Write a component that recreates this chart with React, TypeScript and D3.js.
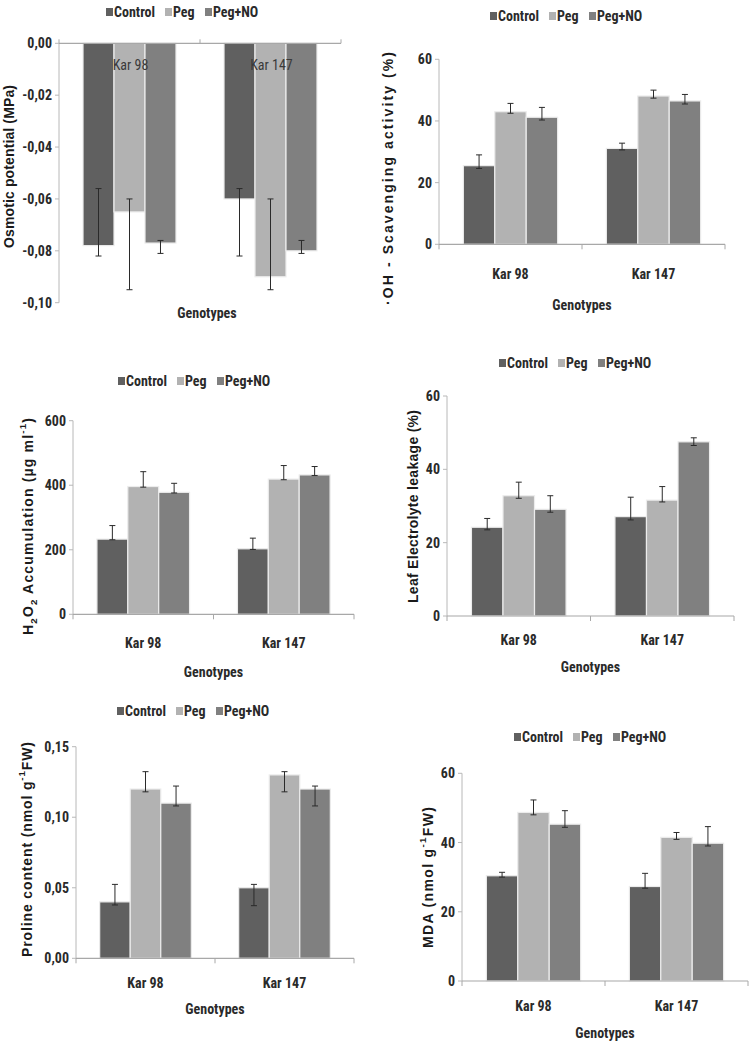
import React from "react";
import * as d3 from "d3";

const categories = ["Kar 98", "Kar 147"];
const seriesNames = ["Control", "Peg", "Peg+NO"];
const seriesColors = ["#606060", "#b2b2b2", "#808080"];

// rows = series (Control, Peg, Peg+NO), columns = categories (Kar 98, Kar 147)
const osmoticValues = [[-0.078, -0.060], [-0.065, -0.090], [-0.077, -0.080]];
const osmoticUpper = [[-0.056, -0.056], [-0.060, -0.060], [-0.076, -0.076]];
const osmoticLower = [[-0.082, -0.082], [-0.095, -0.095], [-0.081, -0.081]];
const osmoticTicks = [0, -0.02, -0.04, -0.06, -0.08, -0.10];

const ohValues = [[25.5, 31.1], [43.0, 48.1], [41.2, 46.5]];
const ohUpper = [[29.0, 32.8], [45.7, 50.0], [44.4, 48.6]];
const ohLower = [[24.6, 30.6], [42.5, 47.4], [40.3, 45.5]];
const ohTicks = [0, 20, 40, 60];

const h2o2Values = [[233, 203], [396, 419], [378, 432]];
const h2o2Upper = [[275, 236], [442, 461], [406, 458]];
const h2o2Lower = [[231, 201], [394, 417], [376, 430]];
const h2o2Ticks = [0, 200, 400, 600];

const leakValues = [[24.2, 27.1], [32.8, 31.6], [29.1, 47.5]];
const leakUpper = [[26.6, 32.4], [36.5, 35.3], [32.8, 48.6]];
const leakLower = [[23.5, 26.2], [32.1, 31.1], [28.3, 46.5]];
const leakTicks = [0, 20, 40, 60];

const prolineValues = [[0.04, 0.05], [0.12, 0.13], [0.11, 0.12]];
const prolineUpper = [[0.0524, 0.0524], [0.1323, 0.1323], [0.1221, 0.1221]];
const prolineLower = [[0.0378, 0.0373], [0.118, 0.118], [0.108, 0.108]];
const prolineTicks = [0, 0.05, 0.10, 0.15];

const mdaValues = [[30.4, 27.3], [48.7, 41.5], [45.3, 39.8]];
const mdaUpper = [[31.4, 31.1], [52.3, 42.9], [49.2, 44.6]];
const mdaLower = [[30.0, 26.8], [48.0, 40.9], [44.4, 39.0]];
const mdaTicks = [0, 20, 40, 60];

const xTitle = "Genotypes";

const NARROW = "'Liberation Sans Narrow', 'Arial Narrow', 'Roboto Condensed', 'Liberation Sans', sans-serif";
const WIDE = "'Liberation Sans', Arial, sans-serif";

const comma2 = (v: number) => d3.format(".2f")(v).replace(".", ",").replace("−", "-");
const plain = (v: number) => d3.format("d")(v);

type Panel = {
  values: number[][]; upper: number[][]; lower: number[][];
  ticks: number[]; fmt: (v: number) => string;
  left: number; right: number; top: number; bottom: number;
  legendX: number; legendY: number;
  catY: number; titleY: number;
  yTitle: string; yTitleX: number; yTitleMid: number; yTitleLen: number;
  inside?: boolean;
};

const panels: Panel[] = [
  { values: osmoticValues, upper: osmoticUpper, lower: osmoticLower, ticks: osmoticTicks, fmt: comma2,
    left: 59, right: 341, top: 43.3, bottom: 302.7, legendX: 106, legendY: 12, catY: 65, titleY: 313,
    yTitle: "Osmotic potential (MPa)", yTitleX: 9, yTitleMid: 166.5, yTitleLen: 163, inside: true },
  { values: ohValues, upper: ohUpper, lower: ohLower, ticks: ohTicks, fmt: plain,
    left: 439, right: 725, top: 59.3, bottom: 244.3, legendX: 490, legendY: 16, catY: 274, titleY: 305,
    yTitle: "·OH - Scavenging activity (%)", yTitleX: 388, yTitleMid: 178.5, yTitleLen: 253 },
  { values: h2o2Values, upper: h2o2Upper, lower: h2o2Lower, ticks: h2o2Ticks, fmt: plain,
    left: 73, right: 354, top: 420.7, bottom: 614.3, legendX: 118, legendY: 381, catY: 643, titleY: 672,
    yTitle: "H2O2 Accumulation (µg ml-1)", yTitleX: 28, yTitleMid: 526.5, yTitleLen: 217 },
  { values: leakValues, upper: leakUpper, lower: leakLower, ticks: leakTicks, fmt: plain,
    left: 447, right: 734, top: 396, bottom: 616, legendX: 499, legendY: 363, catY: 640, titleY: 667,
    yTitle: "Leaf Electrolyte leakage (%)", yTitleX: 413, yTitleMid: 506.5, yTitleLen: 193 },
  { values: prolineValues, upper: prolineUpper, lower: prolineLower, ticks: prolineTicks, fmt: comma2,
    left: 76, right: 354, top: 746.7, bottom: 958.3, legendX: 117, legendY: 711, catY: 983, titleY: 1009,
    yTitle: "Proline content (nmol g-1FW)", yTitleX: 27, yTitleMid: 849.5, yTitleLen: 215 },
  { values: mdaValues, upper: mdaUpper, lower: mdaLower, ticks: mdaTicks, fmt: plain,
    left: 462, right: 748, top: 773.3, bottom: 981, legendX: 514, legendY: 737, catY: 1006, titleY: 1033,
    yTitle: "MDA (nmol g-1FW)", yTitleX: 428, yTitleMid: 877.5, yTitleLen: 141 },
];

function renderTitle(t: string) {
  if (t.startsWith("H2O2")) {
    return [
      <tspan key="a">H</tspan>,
      <tspan key="b" baselineShift="sub" fontSize="70%">2</tspan>,
      <tspan key="c">O</tspan>,
      <tspan key="d" baselineShift="sub" fontSize="70%">2</tspan>,
      <tspan key="e"> Accumulation (µg ml</tspan>,
      <tspan key="f" baselineShift="super" fontSize="70%">-1</tspan>,
      <tspan key="g">)</tspan>,
    ];
  }
  if (t.includes("g-1FW")) {
    const [pre] = t.split("g-1FW");
    return [
      <tspan key="a">{pre}g</tspan>,
      <tspan key="b" baselineShift="super" fontSize="70%">-1</tspan>,
      <tspan key="c">FW)</tspan>,
    ];
  }
  return t;
}

function ChartPanel({ p }: { p: Panel }) {
  const x0 = d3.scaleBand<string>().domain(categories).range([p.left, p.right]);
  const bw = x0.bandwidth();
  const gapRatio = 1.55;
  const w = bw / (3 + gapRatio);
  const pad = (bw - 3 * w) / 2;
  const x1 = d3.scaleBand<string>().domain(seriesNames).range([0, 3 * w]);
  const ext = d3.extent(p.ticks) as [number, number];
  const y = d3.scaleLinear().domain(ext).range([p.bottom, p.top]);
  const y0 = y(0);
  const legendOffsets = [0, 59, 99];
  const midX = (p.left + p.right) / 2;

  return (
    <g>
      {seriesNames.map((s, i) => (
        <g key={s} transform={`translate(${p.legendX + legendOffsets[i]},${p.legendY})`}>
          <rect x={0} y={-4} width={7} height={8} fill={seriesColors[i]} />
          <text x={8} y={0} dominantBaseline="central" fontFamily={NARROW} fontWeight="bold"
            fontSize={14} fill="#2a2a2a">{s}</text>
        </g>
      ))}
      <line x1={p.left} x2={p.left} y1={p.top} y2={p.bottom} stroke="#b8b8b8" strokeWidth={1} />
      {p.ticks.map((t) => (
        <g key={t}>
          <line x1={p.left - 4} x2={p.left} y1={y(t)} y2={y(t)} stroke="#b8b8b8" />
          <text x={p.left - 7} y={y(t)} dominantBaseline="central" textAnchor="end"
            fontFamily={NARROW} fontWeight="bold" fontSize={14} fill="#2a2a2a">{p.fmt(t)}</text>
        </g>
      ))}
      {seriesNames.map((s, si) =>
        categories.map((c, ci) => {
          const v = p.values[si][ci];
          const bx = (x0(c) as number) + pad + (x1(s) as number);
          const yv = y(v);
          return (
            <rect key={s + c} x={bx} y={Math.min(yv, y0)} width={x1.bandwidth()}
              height={Math.abs(yv - y0)} fill={seriesColors[si]} stroke="#ececec" strokeWidth={1.2} />
          );
        })
      )}
      <line x1={p.left} x2={p.right} y1={y0} y2={y0} stroke="#a8a8a8" strokeWidth={1.2} />
      {[p.left, midX, p.right].map((tx, i) => (
        <line key={i} x1={tx} x2={tx} y1={y0} y2={p.inside ? y0 - 4 : y0 + 5} stroke="#a8a8a8" />
      ))}
      {seriesNames.map((s, si) =>
        categories.map((c, ci) => {
          const cx = (x0(c) as number) + pad + (x1(s) as number) + x1.bandwidth() / 2;
          const yu = y(p.upper[si][ci]);
          const yl = y(p.lower[si][ci]);
          return (
            <g key={"e" + s + c} stroke="#2a2a2a" strokeWidth={1}>
              <line x1={cx} x2={cx} y1={yu} y2={yl} />
              <line x1={cx - 3} x2={cx + 3} y1={yu} y2={yu} />
              <line x1={cx - 3} x2={cx + 3} y1={yl} y2={yl} />
            </g>
          );
        })
      )}
      {categories.map((c) => (
        <text key={c} x={(x0(c) as number) + bw / 2 + (p.inside ? 1 : 0)} y={p.catY}
          dominantBaseline="central" textAnchor="middle" fontFamily={NARROW}
          fontWeight={p.inside ? "normal" : "bold"} fontSize={14}
          fill={p.inside ? "#3a3a3a" : "#2a2a2a"}>{c}</text>
      ))}
      <text x={p.inside ? 207 : midX} y={p.titleY} dominantBaseline="central" textAnchor="middle"
        fontFamily={NARROW} fontWeight="bold" fontSize={14} fill="#2a2a2a">{xTitle}</text>
      <text transform={`translate(${p.yTitleX},${p.yTitleMid}) rotate(-90)`} textAnchor="middle"
        dominantBaseline="central" fontFamily={WIDE} fontWeight="bold" fontSize={14}
        fill="#1a1a1a" textLength={p.yTitleLen} lengthAdjust="spacing">{renderTitle(p.yTitle)}</text>
    </g>
  );
}

export default function App() {
  return (
    <svg width={749} height={1043} viewBox="0 0 749 1043"
      style={{ position: "absolute", left: 0, top: 0, background: "#ffffff" }}>
      <rect x={0} y={0} width={749} height={1043} fill="#ffffff" />
      {panels.map((p, i) => (
        <ChartPanel key={i} p={p} />
      ))}
    </svg>
  );
}
